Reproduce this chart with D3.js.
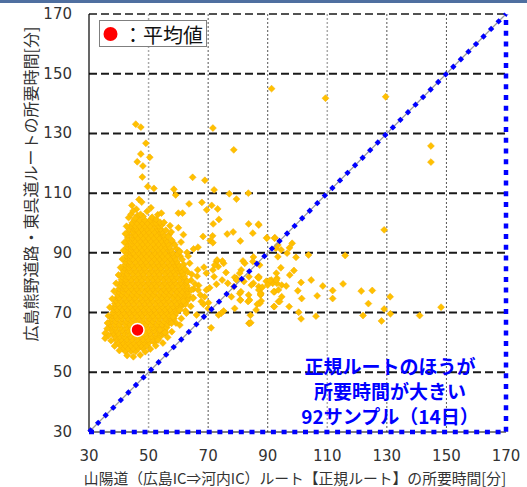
<!DOCTYPE html>
<html>
<head>
<meta charset="utf-8">
<script src="https://cdn.jsdelivr.net/npm/d3@7"></script>
<style>
  body { margin: 0; background: #fff; }
  svg { display: block; }
</style>
</head>
<body>
<div id="chart"></div>
<script>
// ---- data ----
const xTicks = [30, 50, 70, 90, 110, 130, 150, 170];
const yTicks = [30, 50, 70, 90, 110, 130, 150, 170];
const xTitle = '山陽道（広島IC⇒河内IC）ルート【正規ルート】の所要時間[分]';
const yTitle = '広島熊野道路・東呉道ルートの所要時間[分]';
const legendLabel = '：平均値';
const noteLines = ['正規ルートのほうが', '所要時間が大きい', '92サンプル（14日）'];

// mean of all samples [x, y]
const meanPoint = [46.3, 64.2];

// dense core of the cloud, one row per y value: [y, [x, x, ...]]
const coreRows = [
  [57, [42.2, 44.1, 45.7]],
  [58, [41.3, 43.2, 44.8, 46.6, 48.1]],
  [59, [40.5, 42.1, 44.0, 45.9, 47.5, 49.4]],
  [60, [39.6, 41.4, 43.0, 44.9, 46.8, 48.4, 50.2, 51.9]],
  [61, [39.1, 40.8, 42.7, 44.4, 46.2, 48.1, 49.8, 51.6, 53.0]],
  [62, [38.6, 40.3, 41.9, 43.8, 45.7, 47.3, 49.2, 51.0, 52.6, 54.0]],
  [63, [38.1, 39.8, 41.7, 43.3, 45.1, 47.0, 48.9, 50.5, 52.4, 54.1, 55.1]],
  [64, [37.6, 39.2, 41.1, 43.0, 44.6, 46.5, 48.2, 50.1, 51.8, 53.7, 55.4]],
  [65, [37.2, 38.9, 40.6, 42.5, 44.3, 46.0, 47.9, 49.6, 51.5, 53.2, 55.0, 56.1]],
  [66, [37.0, 38.7, 40.3, 42.2, 43.8, 45.7, 47.5, 49.2, 51.1, 52.9, 54.6, 56.4]],
  [67, [37.3, 39.0, 40.9, 42.6, 44.4, 46.1, 48.0, 49.8, 51.5, 53.4, 55.2, 56.9, 57.7]],
  [68, [37.6, 39.4, 41.1, 43.0, 44.7, 46.6, 48.3, 50.2, 52.0, 53.7, 55.6, 57.3, 58.5]],
  [69, [37.8, 38.9, 40.7, 42.4, 44.3, 46.1, 47.8, 49.7, 51.4, 53.3, 55.0, 56.9, 58.8]],
  [70, [38.1, 39.8, 41.6, 43.5, 45.2, 47.0, 48.8, 50.5, 52.4, 54.2, 55.9, 57.8, 59.4]],
  [71, [38.3, 39.4, 41.1, 42.9, 44.7, 46.4, 48.3, 50.1, 51.8, 53.7, 55.5, 57.2, 59.1, 60.0]],
  [72, [38.6, 40.2, 42.0, 43.7, 45.6, 47.4, 49.1, 51.0, 52.8, 54.5, 56.4, 58.2, 59.9, 61.0]],
  [73, [38.7, 39.7, 41.5, 43.3, 45.0, 46.9, 48.7, 50.4, 52.3, 54.1, 55.8, 57.7, 59.5, 61.2, 62.0]],
  [74, [39.1, 40.6, 42.4, 44.2, 45.9, 47.8, 49.6, 51.3, 53.2, 55.0, 56.7, 58.6, 60.4, 62.1, 63.0]],
  [75, [39.4, 40.1, 41.9, 43.7, 45.4, 47.3, 49.1, 50.8, 52.7, 54.5, 56.2, 58.1, 59.9, 61.6, 63.5]],
  [76, [39.6, 41.0, 42.8, 44.6, 46.3, 48.2, 50.0, 51.7, 53.6, 55.4, 57.1, 59.0, 60.8, 62.5, 63.4]],
  [77, [39.9, 41.5, 43.3, 45.1, 46.8, 48.7, 50.5, 52.2, 54.1, 55.9, 57.6, 59.5, 61.3, 63.1]],
  [78, [40.1, 41.6, 42.4, 44.2, 46.0, 47.7, 49.6, 51.4, 53.1, 55.0, 56.8, 58.5, 60.4, 62.2, 63.2]],
  [79, [40.4, 41.9, 43.7, 45.5, 47.2, 49.1, 50.9, 52.6, 54.5, 56.3, 58.0, 59.9, 61.7, 62.9]],
  [80, [40.7, 42.1, 42.8, 44.6, 46.4, 48.1, 50.0, 51.8, 53.5, 55.4, 57.2, 58.9, 60.8, 62.6]],
  [81, [40.9, 42.4, 44.2, 46.0, 47.7, 49.6, 51.4, 53.1, 55.0, 56.8, 58.5, 60.4, 62.2]],
  [82, [41.1, 42.6, 43.3, 45.1, 46.9, 48.6, 50.5, 52.3, 54.0, 55.9, 57.7, 59.4, 61.3, 62.0]],
  [83, [41.3, 42.9, 44.7, 46.5, 48.2, 50.1, 51.9, 53.6, 55.5, 57.3, 59.0, 60.9, 61.5]],
  [84, [41.6, 43.1, 43.8, 45.6, 47.4, 49.1, 51.0, 52.8, 54.5, 56.4, 58.2, 59.9, 61.0]],
  [85, [41.9, 43.4, 45.2, 47.0, 48.7, 50.6, 52.4, 54.1, 56.0, 57.8, 59.5, 60.5]],
  [86, [42.1, 43.6, 44.3, 46.1, 47.9, 49.6, 51.5, 53.3, 55.0, 56.9, 58.7, 60.0]],
  [87, [42.3, 43.8, 45.6, 47.4, 49.1, 51.0, 52.8, 54.5, 56.4, 58.2, 59.5]],
  [88, [42.4, 44.0, 44.7, 46.5, 48.3, 50.0, 51.9, 53.7, 55.4, 57.3, 59.0]],
  [89, [42.5, 43.9, 45.7, 47.5, 49.2, 51.1, 52.9, 54.6, 56.5, 58.3]],
  [90, [42.6, 44.1, 44.8, 46.6, 48.4, 50.1, 52.0, 53.8, 55.5, 57.4, 58.0]],
  [91, [42.7, 44.2, 46.0, 47.8, 49.5, 51.4, 53.2, 54.9, 56.8, 57.5]],
  [92, [42.8, 44.3, 45.1, 46.9, 48.7, 50.4, 52.3, 54.1, 55.8, 57.0]],
  [93, [42.8, 44.4, 46.2, 48.0, 49.7, 51.6, 53.4, 55.1, 56.5]],
  [94, [42.9, 44.5, 45.3, 47.1, 48.9, 50.6, 52.5, 54.3, 56.0]],
  [95, [43.0, 44.6, 46.4, 48.2, 49.9, 51.8, 53.6, 55.4]],
  [96, [43.0, 44.7, 45.5, 47.3, 49.1, 50.8, 52.7, 54.5, 55.0]],
  [97, [43.2, 44.8, 46.6, 48.4, 50.1, 52.0, 53.8, 54.5]],
  [98, [43.5, 45.1, 45.8, 47.6, 49.4, 51.1, 53.0, 54.0]],
  [99, [44.0, 45.6, 47.0, 48.8, 50.5, 52.4, 53.5]],
  [100, [44.5, 46.1, 47.9, 49.6, 51.5, 52.5]],
  [101, [45.2, 47.0, 48.7, 50.6]]
];

// ragged fringe just outside the core [x, y]
const fringePoints = [
  [36.2, 66.5], [36.5, 68.9], [37.0, 71.8], [37.8, 74.6], [38.4, 77.2], [39.1, 79.8],
  [39.9, 82.6], [40.6, 85.1], [41.2, 87.9], [41.6, 90.8], [41.9, 93.5], [42.2, 96.4],
  [42.6, 98.9], [43.3, 101.8], [44.1, 102.9], [46.3, 102.5], [48.2, 102.2], [51.2, 101.9],
  [52.6, 101.2], [54.4, 99.3], [55.8, 97.6], [56.9, 96.1], [58.1, 93.4], [59.3, 91.5],
  [60.6, 88.9], [61.8, 86.1], [63.1, 83.6], [64.3, 80.8], [65.1, 77.9], [65.0, 75.0],
  [64.2, 72.1], [62.4, 70.6], [61.0, 68.0], [59.2, 66.5], [57.8, 63.6], [56.4, 61.7],
  [54.8, 59.8], [52.4, 58.9], [50.6, 57.8], [48.9, 56.9], [47.2, 55.8], [44.9, 55.2],
  [40.2, 57.3], [38.6, 58.8], [37.4, 60.6], [36.6, 62.4], [36.1, 64.6], [45.9, 104.6],
  [49.5, 103.9], [53.1, 102.8], [57.6, 97.0], [62.9, 90.1], [66.3, 82.2], [66.8, 79.1]
];

// scattered samples around the core [x, y]
const scatterPoints = [
  [45.7, 133.1], [47.4, 132.1], [71.6, 131.8], [49.1, 126.7], [78.6, 124.5], [47.4, 123.1],
  [46.2, 120.5], [50.4, 122.0], [48.1, 119.1], [47.9, 115.4], [64.8, 115.3], [68.9, 114.3],
  [49.7, 112.2], [51.8, 111.6], [58.5, 111.3], [59.1, 109.4], [72.0, 111.1], [77.1, 109.8],
  [79.5, 108.0], [83.5, 110.0], [46.8, 107.9], [44.4, 105.9], [47.7, 107.0], [50.8, 105.1],
  [44.8, 104.0], [47.3, 102.9], [63.6, 106.4], [67.9, 106.9], [71.2, 105.9], [69.5, 104.4],
  [73.2, 104.7], [60.0, 103.3], [61.4, 103.3], [73.6, 101.2], [45.5, 101.6], [54.3, 103.3],
  [53.9, 100.2], [55.2, 100.2], [57.2, 99.1], [60.0, 98.4], [61.7, 96.1], [71.7, 99.7],
  [83.6, 99.7], [87.0, 99.3], [76.4, 96.3], [78.4, 97.0], [68.3, 95.5], [71.5, 95.7],
  [70.7, 94.1], [80.8, 94.0], [89.7, 95.1], [92.4, 95.1], [109.4, 141.8], [129.6, 142.3],
  [144.8, 125.8], [144.8, 120.4], [91.3, 145.0], [129.1, 97.7], [116.0, 89.1], [103.7, 89.3],
  [56.6, 95.4], [71.6, 93.4], [60.2, 90.7], [65.1, 91.3], [66.6, 91.9], [59.7, 89.6],
  [60.5, 90.4], [63.8, 86.5], [66.5, 84.3], [68.6, 85.2], [69.4, 83.2], [72.8, 87.1],
  [73.4, 85.4], [75.2, 86.5], [72.0, 82.0], [74.7, 80.9], [72.8, 79.5], [76.0, 83.4],
  [76.6, 79.8], [78.6, 78.7], [79.5, 81.5], [80.6, 76.4], [80.9, 74.2], [83.6, 75.9],
  [83.4, 73.7], [84.2, 69.1], [83.7, 66.4], [87.0, 82.0], [87.0, 78.7], [87.7, 76.5],
  [87.8, 73.9], [85.2, 79.8], [91.7, 79.8], [91.2, 80.9], [92.3, 77.0], [92.1, 72.0],
  [93.6, 73.7], [71.0, 64.9], [75.2, 70.5], [70.1, 73.3], [68.4, 72.8], [60.5, 65.8],
  [55.6, 63.2], [64.9, 74.8], [62.4, 72.9], [61.7, 73.8], [66.6, 77.6], [64.4, 77.6],
  [67.4, 75.9], [60.5, 70.9], [62.7, 69.8], [58.2, 68.6], [66.1, 69.2], [57.7, 66.4],
  [53.8, 64.2], [73.0, 87.6], [72.2, 85.9], [74.8, 87.3], [71.6, 84.3], [81.7, 87.3],
  [82.3, 86.5], [85.2, 88.6], [85.0, 87.1], [87.3, 85.9], [81.1, 84.3], [78.9, 81.8],
  [80.6, 83.2], [79.5, 80.9], [82.0, 80.4], [83.7, 82.0], [84.5, 79.2], [86.7, 81.8],
  [87.0, 77.6], [88.2, 78.5], [89.5, 80.5], [93.1, 81.5], [93.1, 79.8], [93.6, 77.6],
  [94.7, 79.2], [92.7, 91.5], [93.4, 88.7], [94.5, 91.0], [83.9, 74.2], [87.6, 75.9],
  [87.4, 73.1], [86.1, 70.9], [80.7, 74.2], [77.8, 75.3], [81.0, 77.0], [78.9, 71.4],
  [74.4, 69.8], [73.5, 69.2], [68.8, 75.3], [69.4, 77.6], [70.5, 78.3], [67.7, 73.7],
  [70.0, 71.4], [83.9, 66.4], [89.7, 94.9], [92.3, 94.9], [93.4, 92.6], [98.2, 93.2],
  [97.3, 91.7], [96.5, 89.9], [99.5, 88.5], [94.4, 85.0], [92.9, 83.2], [92.9, 80.9],
  [90.6, 80.7], [90.0, 79.2], [87.0, 81.6], [87.6, 76.2], [86.5, 72.8], [104.6, 80.9],
  [101.2, 80.1], [108.5, 78.9], [96.2, 78.9], [94.7, 75.3], [92.0, 77.0], [100.1, 77.3],
  [111.8, 77.4], [115.3, 79.6], [121.4, 77.2], [125.1, 77.4], [131.1, 75.3], [101.4, 74.7],
  [106.6, 75.6], [111.8, 74.7], [123.8, 73.0], [97.2, 72.0], [92.2, 72.0], [94.0, 73.7],
  [129.1, 71.2], [148.2, 71.8], [100.4, 70.1], [101.2, 67.9], [106.2, 68.8], [122.0, 69.0],
  [131.2, 69.6], [141.0, 69.0], [128.2, 67.2], [84.3, 66.6], [85.0, 96.6], [86.9, 99.6],
  [35.4, 63.1], [35.4, 61.4], [42.8, 55.6], [55.5, 63.3], [53.2, 60.8], [63.0, 80.5],
  [64.5, 82.8], [62.2, 84.6], [65.6, 79.6], [61.3, 87.8], [63.3, 88.9], [58.8, 92.7],
  [60.9, 93.6], [57.8, 94.2], [98.8, 84.1], [97.4, 82.6]
];

// ---- layout ----
const W = 527, H = 487;
const plot = { left: 89, right: 506, top: 14, bottom: 432 };
const font = '"Noto Sans CJK JP", "DejaVu Sans", sans-serif';

const svg = d3.select('#chart').append('svg')
  .attr('width', W)
  .attr('height', H);

svg.append('rect').attr('width', W).attr('height', H).attr('fill', '#fff');
// thin band on the very top edge
svg.append('rect').attr('width', W).attr('height', 3).attr('fill', '#4f6fa0');

const x = d3.scaleLinear().domain([30, 170]).range([plot.left, plot.right]);
const y = d3.scaleLinear().domain([30, 170]).range([plot.bottom, plot.top]);

// vertical grid: thin dotted lines
svg.append('g').selectAll('line')
  .data(xTicks.slice(1, -1))
  .join('line')
    .attr('x1', d => x(d)).attr('x2', d => x(d))
    .attr('y1', y(30)).attr('y2', y(170))
    .attr('stroke', d => (d === 50 || d === 110) ? '#aaa' : '#555')
    .attr('stroke-width', d => (d === 50 || d === 110) ? 1.5 : 1)
    .attr('stroke-dasharray', '2 2');

// horizontal grid: heavy dashes (the top edge too)
svg.append('g').selectAll('line')
  .data(yTicks.slice(1))
  .join('line')
    .attr('x1', x(30)).attr('x2', x(170))
    .attr('y1', d => y(d)).attr('y2', d => y(d))
    .attr('stroke', '#1a1a1a')
    .attr('stroke-width', d => d === 170 ? 1.5 : 2)
    .attr('stroke-dasharray', '8 4');

// left axis line and base line
svg.append('line')
  .attr('x1', x(30)).attr('x2', x(30)).attr('y1', y(30)).attr('y2', y(170))
  .attr('stroke', '#000').attr('stroke-width', 1.2);
svg.append('line')
  .attr('x1', x(30)).attr('x2', x(170)).attr('y1', y(30)).attr('y2', y(30))
  .attr('stroke', '#000').attr('stroke-width', 1);

// flatten the core rows into points
const corePoints = coreRows.flatMap(([yy, xs]) => xs.map(xx => [xx, yy]));
const allPoints = corePoints.concat(fringePoints, scatterPoints);

const diamond = d3.symbol().type(d3.symbolSquare).size(24);
svg.append('g').selectAll('path')
  .data(allPoints)
  .join('path')
    .attr('d', diamond)
    .attr('transform', d => `translate(${x(d[0])},${y(d[1])}) rotate(45)`)
    .attr('fill', '#ffc000')
    .attr('stroke', '#f5b000')
    .attr('stroke-width', 0.5);

// diagonal y = x : grey line with blue square dots
svg.append('line')
  .attr('x1', x(30)).attr('y1', y(30)).attr('x2', x(170)).attr('y2', y(170))
  .attr('stroke', '#999').attr('stroke-width', 1.2);
svg.append('line')
  .attr('x1', x(30)).attr('y1', y(30)).attr('x2', x(170)).attr('y2', y(170))
  .attr('stroke', '#0000ff').attr('stroke-width', 4.5)
  .attr('stroke-dasharray', '4.5 6.2');

// blue dotted frame on the bottom and right sides
svg.append('path')
  .attr('d', `M${x(30)},${y(30)}H${x(170)}V${y(170)}`)
  .attr('fill', 'none')
  .attr('stroke', '#0000ff').attr('stroke-width', 4.5)
  .attr('stroke-dasharray', '5 5.7');

// mean point
svg.append('circle')
  .attr('cx', x(meanPoint[0])).attr('cy', y(meanPoint[1]))
  .attr('r', 6.5)
  .attr('fill', '#ff0000')
  .attr('stroke', '#fff').attr('stroke-width', 1.5);

// legend box
const legend = svg.append('g');
legend.append('rect')
  .attr('x', 99.5).attr('y', 20.5).attr('width', 107).attr('height', 26)
  .attr('fill', '#fff').attr('stroke', '#7f7f7f');
legend.append('circle')
  .attr('cx', 110.5).attr('cy', 34).attr('r', 7).attr('fill', '#ff0000');
legend.append('text')
  .attr('x', 123).attr('y', 34)
  .attr('dominant-baseline', 'central')
  .style('font', `20px ${font}`)
  .attr('fill', '#111')
  .text(legendLabel);

// annotation
svg.append('g').selectAll('text')
  .data(noteLines)
  .join('text')
    .attr('x', 390).attr('y', (d, i) => 365 + i * 25)
    .attr('text-anchor', 'middle')
    .attr('dominant-baseline', 'central')
    .style('font', `bold 19px ${font}`)
    .attr('fill', '#0000ff')
    .text(d => d);

// tick labels
svg.append('g').selectAll('text')
  .data(xTicks)
  .join('text')
    .attr('x', d => x(d)).attr('y', 456)
    .attr('text-anchor', 'middle')
    .attr('dominant-baseline', 'central')
    .style('font', '15px "DejaVu Sans", sans-serif')
    .attr('fill', '#333')
    .text(d => d);

svg.append('g').selectAll('text')
  .data(yTicks)
  .join('text')
    .attr('x', 72).attr('y', d => y(d))
    .attr('text-anchor', 'end')
    .attr('dominant-baseline', 'central')
    .style('font', '15px "DejaVu Sans", sans-serif')
    .attr('fill', '#333')
    .text(d => d);

// axis titles
svg.append('text')
  .attr('x', 295).attr('y', 477)
  .attr('text-anchor', 'middle')
  .attr('dominant-baseline', 'central')
  .style('font', `14.8px ${font}`)
  .attr('fill', '#333')
  .text(xTitle);

svg.append('text')
  .attr('transform', 'translate(30,184) rotate(-90)')
  .attr('text-anchor', 'middle')
  .attr('dominant-baseline', 'central')
  .style('font', `16px ${font}`)
  .attr('fill', '#333')
  .text(yTitle);
</script>
</body>
</html>
